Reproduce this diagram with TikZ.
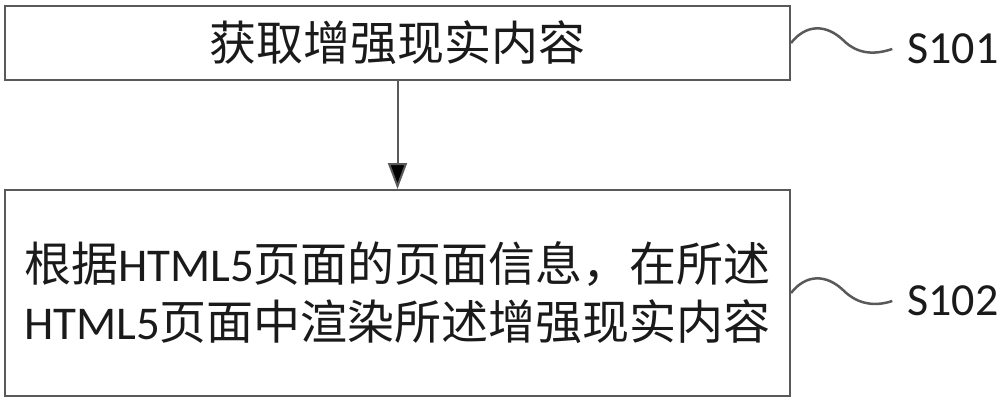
\documentclass[tikz,border=0pt]{standalone}
\usepackage{fontspec}
\setmainfont{Carlito}
\newfontfamily\cjk{Noto Sans CJK SC}
\usetikzlibrary{arrows.meta}
\definecolor{linegray}{RGB}{89,89,89}
\definecolor{textgray}{RGB}{26,26,26}

\begin{document}
\begin{tikzpicture}[x=1pt, y=-1pt, >={Triangle[length=26pt,width=19pt]},
    step node/.style={rectangle, draw=linegray, line width=2pt, minimum width=785pt, inner sep=0pt, text=textgray, font=\fontsize{47}{58}\selectfont, align=center},
    label node/.style={inner sep=0pt, text=textgray, font=\fontsize{46}{46}\selectfont},
    wave/.style={draw=linegray, line width=2.5pt}]
        \useasboundingbox (0,0) rectangle (1000,401);
        \node[step node, minimum height=74pt] (1) at (397.5,43) {\cjk 获取增强现实内容};
        \node[step node, minimum height=206pt] (2) at (397.5,293) {{\cjk 根据}HTML5{\cjk 页面的页面信息，在所述}\\HTML5{\cjk 页面中渲染所述增强现实内容}};
        \node[label node] (l1) at (953,49) {S101};
        \node[label node] (l2) at (953,301) {S102};
        \path[->, draw=linegray, line width=2pt]
        (1) edge node {} (2);
        \coordinate (m1) at ([shift={(52,-3)}]1.east);
        \coordinate (w1) at ([xshift=-15pt]l1.west);
        \coordinate (m2) at ([shift={(52,-3)}]2.east);
        \coordinate (w2) at ([xshift=-15pt]l2.west);
        \draw[wave] (1.east) .. controls +(15,-19) and +(-17,-16) .. (m1) .. controls +(16,16) and +(-15,5) .. (w1);
        \draw[wave] (2.east) .. controls +(15,-19) and +(-17,-16) .. (m2) .. controls +(16,16) and +(-15,5) .. (w2);
    \end{tikzpicture}
\end{document}
